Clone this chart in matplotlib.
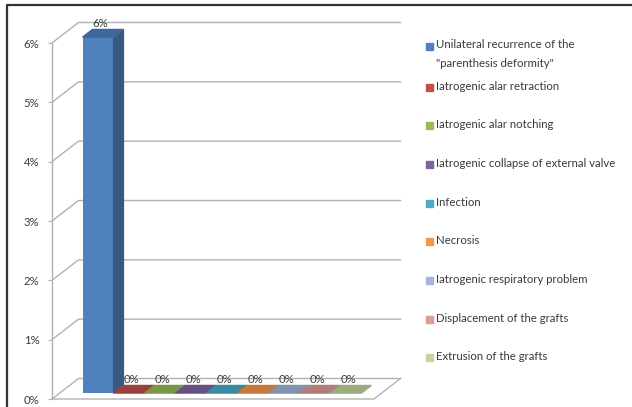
import matplotlib
matplotlib.use('Agg')
import matplotlib.pyplot as plt
from matplotlib.patches import Polygon, Rectangle
from matplotlib.lines import Line2D
import matplotlib.colors as mcolors

# data
labels = ['Unilateral recurrence of the\n"parenthesis deformity"',
          'Iatrogenic alar retraction',
          'Iatrogenic alar notching',
          'Iatrogenic collapse of external valve',
          'Infection',
          'Necrosis',
          'Iatrogenic respiratory problem',
          'Displacement of the grafts',
          'Extrusion of the grafts']
values = [6, 0, 0, 0, 0, 0, 0, 0, 0]
colors = ['#4F81BD', '#C0504D', '#9BBB59', '#8064A2', '#4BACC6',
          '#F79646', '#A3B6DA', '#DC9C9A', '#C3D69B']
yticks = [0, 1, 2, 3, 4, 5, 6]

plt.rcParams['font.family'] = ['Lato', 'DejaVu Sans']
fs = 8.2
txt_c = '#3A3A3A'

W, H = 632, 407
fig = plt.figure(figsize=(W / 100, H / 100), dpi=100)

ax = fig.add_axes([52 / W, (H - 399) / H, 322 / W, 356 / H])
xmin, xmax = -1.24, 9.15
ax.set_xlim(xmin, xmax)
ax.set_ylim(0, 6)
for s in ['top', 'right', 'bottom']:
    ax.spines[s].set_visible(False)
ax.spines['left'].set_color('#B2B2B2')
ax.spines['left'].set_linewidth(1.0)
ax.set_xticks([])
ax.set_yticks(yticks)
ax.set_yticklabels([f'{t}%' for t in yticks], fontsize=fs, color=txt_c)
ax.tick_params(axis='y', length=3, color='#B2B2B2', pad=6)
ax.patch.set_alpha(0)

# depth of the 3d box in data units
DX, DY = 0.855, 0.3455
grid_c = '#B2B2B2'
for v in yticks:
    ax.plot([xmin, xmin + DX, xmax + DX], [v, v + DY, v + DY],
            color=grid_c, lw=1.0, clip_on=False, zorder=1)
ax.plot([xmin, xmax, xmax + DX], [0, 0, DY], color=grid_c, lw=1.0,
        clip_on=False, zorder=1)

d0, d1 = 0.29, 0.66


def shade(c, f):
    r, g, b = mcolors.to_rgb(c)
    return (r * f, g * f, b * f)


xs = list(range(len(values)))
ax.bar([x + d0 * DX for x in xs], values, width=1.0, bottom=d0 * DY,
       color=colors, edgecolor='none', zorder=3, clip_on=False)
for x, v, c in zip(xs, values, colors):
    l, r = x - 0.5 + d0 * DX, x + 0.5 + d0 * DX
    b = d0 * DY
    ddx, ddy = (d1 - d0) * DX, (d1 - d0) * DY
    top = [(l, b + v), (r, b + v), (r + ddx, b + v + ddy), (l + ddx, b + v + ddy)]
    if v > 0:
        side = [(r, b), (r + ddx, b + ddy), (r + ddx, b + v + ddy), (r, b + v)]
        ax.add_patch(Polygon(side, closed=True, color=shade(c, 0.7),
                             zorder=3, clip_on=False))
    ax.add_patch(Polygon(top, closed=True, color=shade(c, 0.8),
                         zorder=3, clip_on=False))
    ax.text(x + d0 * DX + 0.07, v + d1 * DY, f'{v}%', ha='center',
            va='bottom', fontsize=fs, color=txt_c, zorder=4)

# legend
leg_y = [46] + [87 + 38.7 * k for k in range(len(labels) - 1)]
for lab, c, y in zip(labels, colors, leg_y):
    fig.add_artist(Rectangle((426 / W, 1 - (y + 3.5) / H), 7 / W, 7 / H,
                             transform=fig.transFigure, color=c))
    fig.text(436 / W, 1 - (y - 6.5) / H, lab, ha='left', va='top',
             fontsize=fs, color=txt_c, linespacing=1.85)

# outer frame
fig.add_artist(Line2D([7 / W, 7 / W, 1], [0, 1 - 5 / H, 1 - 5 / H],
                      transform=fig.transFigure, color='#333333', lw=1.6))

fig.savefig('out.png', dpi=100)
